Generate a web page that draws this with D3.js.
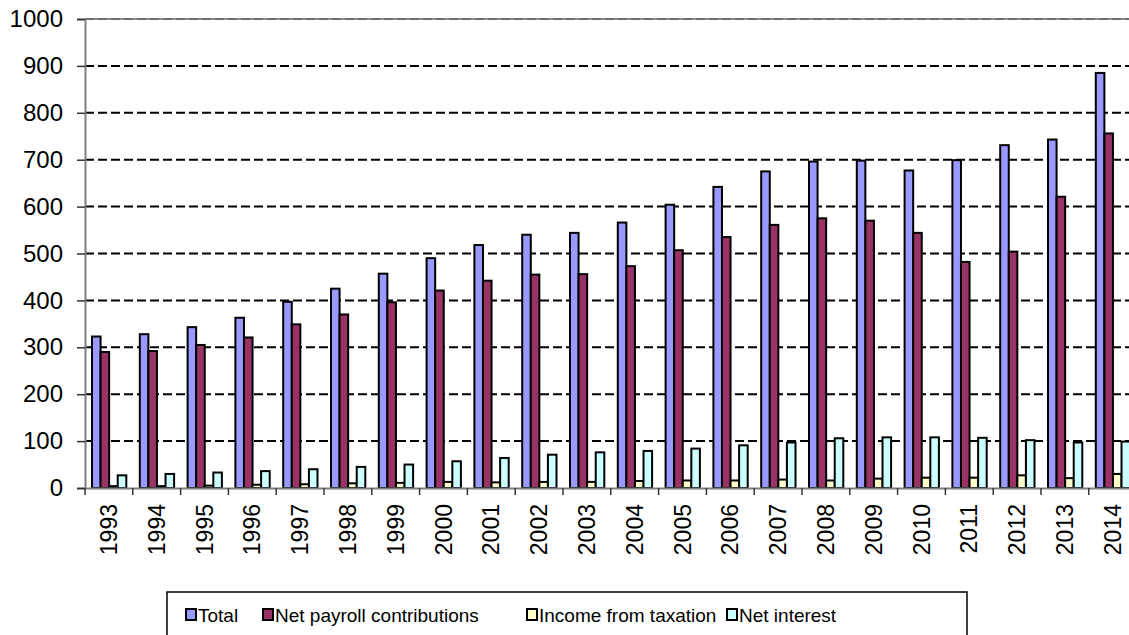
<!DOCTYPE html>
<html>
<head>
<meta charset="utf-8">
<script src="https://cdn.jsdelivr.net/npm/d3@7"></script>
<style>
  html, body { margin: 0; padding: 0; background: #fff; }
  svg { display: block; font-family: "Liberation Sans", Arial, sans-serif; }
</style>
</head>
<body>
<svg id="chart" width="1129" height="635"></svg>
<script>
const years = ["1993","1994","1995","1996","1997","1998","1999","2000","2001","2002","2003","2004","2005","2006","2007","2008","2009","2010","2011","2012","2013","2014"];
const seriesNames = ["Total", "Net payroll contributions", "Income from taxation", "Net interest"];
const total = [323, 328, 343, 363, 397, 425, 457, 490, 518, 540, 544, 566, 604, 642, 675, 696, 698, 677, 699, 731, 743, 885];
const payroll = [290, 292, 305, 321, 349, 370, 396, 421, 442, 455, 456, 473, 507, 535, 561, 575, 570, 544, 482, 504, 621, 756];
const taxation = [4, 4, 5, 7, 8, 10, 11, 13, 12, 13, 13, 15, 16, 16, 18, 16, 20, 22, 22, 27, 21, 30];
const netInterest = [27, 30, 33, 36, 40, 45, 50, 57, 64, 71, 76, 79, 84, 91, 97, 106, 108, 108, 107, 102, 97, 99];
const yTicks = [0, 100, 200, 300, 400, 500, 600, 700, 800, 900, 1000];
const colors = ["#9999FF", "#993366", "#FFFFCC", "#CCFFFF"];

(function () {
const seriesValues = [total, payroll, taxation, netInterest];
const table = years.map((yr, i) => ({ year: yr, values: seriesValues.map(s => s[i]) }));

const svg = d3.select("#chart");
const pLeft = 85, pTop = 19, pBottom = 488, step = 47.8;
const pRight = pLeft + step * years.length;

const x0 = d3.scaleBand().domain(years).range([pLeft, pRight]).padding(0);
const x1 = d3.scaleBand().domain(d3.range(seriesNames.length)).range([7, step - 6.5]).padding(0);
const y = d3.scaleLinear().domain([0, 1000]).range([pBottom, pTop]);

// gridlines
svg.append("g").selectAll("line")
  .data(yTicks.filter(t => t > 0 && t < 1000))
  .join("line")
  .attr("x1", pLeft).attr("x2", pRight)
  .attr("y1", d => y(d)).attr("y2", d => y(d))
  .attr("stroke", "#000").attr("stroke-width", 2)
  .attr("stroke-dasharray", "9,4");

// top border
svg.append("line").attr("x1", pLeft).attr("x2", pRight)
  .attr("y1", y(1000)).attr("y2", y(1000))
  .attr("stroke", "#8c8c8c").attr("stroke-width", 2);
svg.append("line").attr("x1", pLeft).attr("x2", pRight)
  .attr("y1", y(1000)).attr("y2", y(1000))
  .attr("stroke", "#6e6e6e").attr("stroke-width", 2).attr("stroke-dasharray", "9,4");

// bars
const groups = svg.append("g").selectAll("g")
  .data(table).join("g")
  .attr("transform", d => `translate(${x0(d.year)},0)`);
groups.selectAll("rect")
  .data(d => d.values.map((v, k) => ({ v, k })))
  .join("rect")
  .attr("x", d => x1(d.k))
  .attr("width", x1.bandwidth())
  .attr("y", d => y(d.v))
  .attr("height", d => y(0) - y(d.v))
  .attr("fill", d => colors[d.k])
  .attr("stroke", "#000").attr("stroke-width", 2);

// y axis
const yAxis = d3.axisLeft(y).tickValues(yTicks).tickSize(8).tickPadding(14).tickFormat(d3.format("d"));
const gy = svg.append("g").attr("transform", `translate(${pLeft},0)`).call(yAxis);
gy.select(".domain").attr("stroke", "#7f7f7f").attr("stroke-width", 2);
gy.selectAll(".tick line").attr("stroke", "#333").attr("stroke-width", 1.5);
gy.selectAll(".tick text").attr("font-size", 24).attr("fill", "#000")
  .attr("font-family", "'Liberation Sans', Arial, sans-serif");

// x axis
const xAxis = d3.axisBottom(x0).tickSize(0).tickFormat(d => d);
const gx = svg.append("g").attr("transform", `translate(0,${pBottom})`).call(xAxis);
gx.select(".domain").attr("stroke", "#7f7f7f").attr("stroke-width", 2);
gx.selectAll(".tick text")
  .attr("font-size", 23).attr("fill", "#000")
  .attr("font-family", "'Liberation Sans', Arial, sans-serif")
  .attr("transform", "rotate(-90)")
  .attr("text-anchor", "end")
  .attr("x", -16).attr("y", 0).attr("dy", "0.35em");
// category boundary ticks
svg.append("g").selectAll("line")
  .data(years.concat(["end"]))
  .join("line")
  .attr("x1", (d, i) => pLeft + i * x0.step()).attr("x2", (d, i) => pLeft + i * x0.step())
  .attr("y1", pBottom).attr("y2", pBottom + 7)
  .attr("stroke", "#333").attr("stroke-width", 1.5);

// legend
const legend = svg.append("g");
legend.append("rect").attr("x", 167).attr("y", 592).attr("width", 800).attr("height", 60)
  .attr("fill", "#fff").attr("stroke", "#000").attr("stroke-width", 1.5);
const legendX = [186, 263, 527, 727];
const items = legend.selectAll("g.item").data(seriesNames).join("g").attr("class", "item")
  .attr("transform", (d, i) => `translate(${legendX[i]},0)`);
items.append("rect").attr("x", 0).attr("y", 609).attr("width", 10).attr("height", 11)
  .attr("fill", (d, i) => colors[i]).attr("stroke", "#000").attr("stroke-width", 2);
items.append("text").attr("x", 12).attr("y", 622).attr("font-size", 19)
  .attr("font-family", "'Liberation Sans', Arial, sans-serif")
  .text(d => d);
})();
</script>
</body>
</html>
